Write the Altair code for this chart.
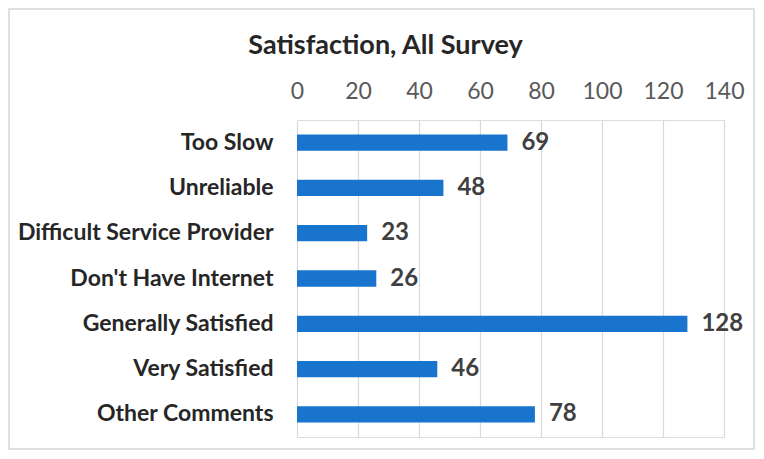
import altair as alt
import pandas as pd

categories = ["Too Slow", "Unreliable", "Difficult Service Provider", "Don't Have Internet",
              "Generally Satisfied", "Very Satisfied", "Other Comments"]
values = [69, 48, 23, 26, 128, 46, 78]
x_ticks = [0, 20, 40, 60, 80, 100, 120, 140]

df = pd.DataFrame({"category": categories, "value": values})

FONT = "Lato"

base = alt.Chart(df)

border = base.mark_rect(fill="transparent", stroke="#d6d6d6", strokeWidth=1.5, clip=False).encode(
    x=alt.value(-288), x2=alt.value(457), y=alt.value(-111), y2=alt.value(329)
).transform_filter("datum.category == 'Too Slow'")

bars = base.mark_bar(color="#1874cd").encode(
    y=alt.Y("category:N", sort=categories,
            scale=alt.Scale(paddingInner=0.64, paddingOuter=0.32),
            axis=alt.Axis(title=None, labelFont=FONT, labelFontWeight="bold",
                          labelFontSize=23, labelColor="#262626", labelPadding=24,
                          ticks=False, domain=False, labelLimit=400)),
    x=alt.X("value:Q", scale=alt.Scale(domain=[0, 140], nice=False),
            axis=alt.Axis(title=None, orient="top", values=x_ticks, labelFont=FONT,
                          labelFontSize=23, labelColor="#595959", labelPadding=17,
                          labelFlush=False, labelOverlap=False,
                          ticks=False, domain=False, grid=True, gridColor="#d9d9d9",
                          gridWidth=1.2)),
)

labels = base.mark_text(align="left", baseline="middle", dx=14, font=FONT,
                        fontWeight="bold", fontSize=24, color="#404040").encode(
    y=alt.Y("category:N", sort=categories),
    x=alt.X("value:Q"),
    text=alt.Text("value:Q"),
)

chart = alt.layer(border, bars, labels).properties(
    width=427, height=317,
    title=alt.TitleParams("Satisfaction, All Survey", font=FONT, fontSize=27,
                          fontWeight="bold", color="#262626", anchor="middle",
                          dx=-125, offset=-52),
    autosize=alt.AutoSizeParams(type="none"),
    padding={"left": 289, "top": 112, "right": 32, "bottom": 14},
).configure_view(stroke=None).configure(background="white")

chart.save("out.html", embed_options={"renderer": "svg", "actions": False})
